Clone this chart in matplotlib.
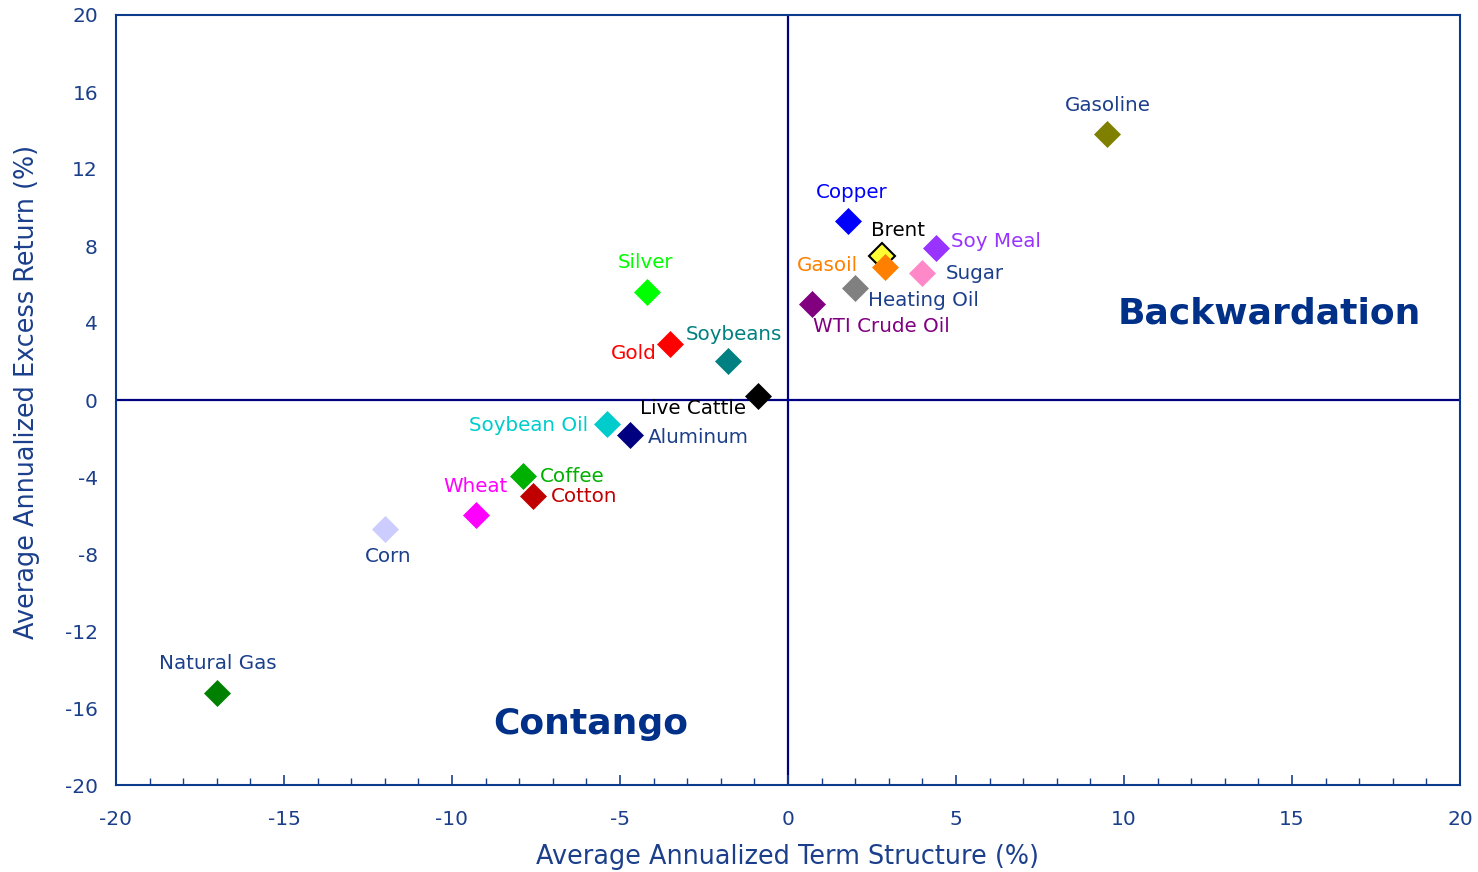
import matplotlib
matplotlib.use("Agg")
import matplotlib.pyplot as plt
from matplotlib.ticker import MultipleLocator

names = ["Gasoline", "Copper", "Brent", "Soy Meal", "Gasoil", "Sugar", "Heating Oil",
         "WTI Crude Oil", "Silver", "Gold", "Soybeans", "Live Cattle", "Soybean Oil",
         "Aluminum", "Coffee", "Cotton", "Wheat", "Corn", "Natural Gas"]
term_structure = [9.5, 1.8, 2.8, 4.4, 2.9, 4.0, 2.0, 0.7, -4.2, -3.5, -1.8, -0.9, -5.4,
                  -4.7, -7.9, -7.6, -9.3, -12.0, -17.0]
excess_return = [13.8, 9.3, 7.5, 7.9, 6.9, 6.6, 5.8, 5.0, 5.6, 2.9, 2.0, 0.2, -1.25,
                 -1.8, -3.95, -5.0, -5.95, -6.7, -15.2]

xticks = [-20, -15, -10, -5, 0, 5, 10, 15, 20]
yticks = [-20, -16, -12, -8, -4, 0, 4, 8, 12, 16, 20]

NAVY = "#000080"
TXT = "#1B3F8B"

marker_colors = {
    "Gasoline": "#808000", "Copper": "#0000FF", "Brent": "#FFFF33", "Soy Meal": "#9933FF",
    "Gasoil": "#FF8000", "Sugar": "#FF88C8", "Heating Oil": "#808080",
    "WTI Crude Oil": "#800080", "Silver": "#00FF00", "Gold": "#FF0000",
    "Soybeans": "#008080", "Live Cattle": "#000000", "Soybean Oil": "#00CCCC",
    "Aluminum": "#000080", "Coffee": "#00B000", "Cotton": "#C00000",
    "Wheat": "#FF00FF", "Corn": "#CCCCFF", "Natural Gas": "#008000",
}
label_colors = {
    "Gasoline": TXT, "Copper": "#0000FF", "Brent": "#000000", "Soy Meal": "#9933FF",
    "Gasoil": "#FF8000", "Sugar": TXT, "Heating Oil": TXT, "WTI Crude Oil": "#800080",
    "Silver": "#00FF00", "Gold": "#FF0000", "Soybeans": "#008080",
    "Live Cattle": "#000000", "Soybean Oil": "#00CCCC", "Aluminum": TXT,
    "Coffee": "#00B000", "Cotton": "#C00000", "Wheat": "#FF00FF", "Corn": TXT,
    "Natural Gas": TXT,
}
# (dx px, dy px, ha)
label_pos = {
    "Gasoline": (1, 29, "center"), "Copper": (3, 28, "center"), "Brent": (-11, 25, "left"),
    "Soy Meal": (15, 6, "left"), "Gasoil": (-27, 2, "right"), "Sugar": (23, -1, "left"),
    "Heating Oil": (13, -12, "left"), "WTI Crude Oil": (1, -23, "left"),
    "Silver": (-1, 30, "center"), "Gold": (-14, -9, "right"), "Soybeans": (-42, 27, "left"),
    "Live Cattle": (-12, -12, "right"), "Soybean Oil": (-18, -1, "right"),
    "Aluminum": (18, -3, "left"), "Coffee": (17, 0, "left"), "Cotton": (18, 0, "left"),
    "Wheat": (0, 28, "center"), "Corn": (3, -28, "center"), "Natural Gas": (1, 29, "center"),
}

plt.rcParams['font.family'] = ['DejaVu Sans']
plt.rcParams['axes.unicode_minus'] = False
fig = plt.figure(figsize=(14.78, 8.72), dpi=100)
ax = fig.add_axes([116/1478, 1-785/872, (1460-116)/1478, (785-15)/872])
ax.set_xlim(-20, 20)
ax.set_ylim(-20, 20)

ax.axhline(0, color=NAVY, lw=1.6, zorder=1)
ax.axvline(0, color=NAVY, lw=1.6, zorder=1)

for n, x, y in zip(names, term_structure, excess_return):
    ec = "black" if n == "Brent" else marker_colors[n]
    ax.plot([x], [y], marker="D", ms=13.5, color=marker_colors[n], mec=ec,
            mew=1.5 if n == "Brent" else 0.5, ls="none", zorder=3)
    dx, dy, ha = label_pos[n]
    ax.annotate(n, (x, y), xytext=(dx, dy), textcoords="offset pixels",
                ha=ha, va="center", fontsize=14.3, color=label_colors[n], zorder=4)

ax.text(14.32, 4.47, "Backwardation", fontsize=26, fontweight="bold", color="#003087",
        ha="center", va="center")
ax.text(-5.86, -16.83, "Contango", fontsize=26, fontweight="bold", color="#003087",
        ha="center", va="center")

ax.set_xticks(xticks)
ax.set_yticks(yticks)
ax.xaxis.set_minor_locator(MultipleLocator(1))
ax.tick_params(axis="x", which="major", direction="in", length=7, width=1.2,
               color="#1B3F8B", labelsize=14.5, labelcolor=TXT, pad=18)
ax.tick_params(axis="x", which="minor", direction="in", length=5, width=1,
               color="#1B3F8B")
ax.tick_params(axis="y", which="both", length=0, labelsize=14.5, labelcolor=TXT, pad=13)

for s in ax.spines.values():
    s.set_color("#0B3A8C")
    s.set_linewidth(1.5)

ax.set_xlabel("Average Annualized Term Structure (%)", fontsize=18.4, color=TXT, va="center")
ax.set_ylabel("Average Annualized Excess Return (%)", fontsize=18.4, color=TXT, va="center")
ax.xaxis.set_label_coords(0.5, (785-857)/770)
ax.yaxis.set_label_coords((27-116)/1344, 0.511)

fig.savefig("out.png", dpi=100)
